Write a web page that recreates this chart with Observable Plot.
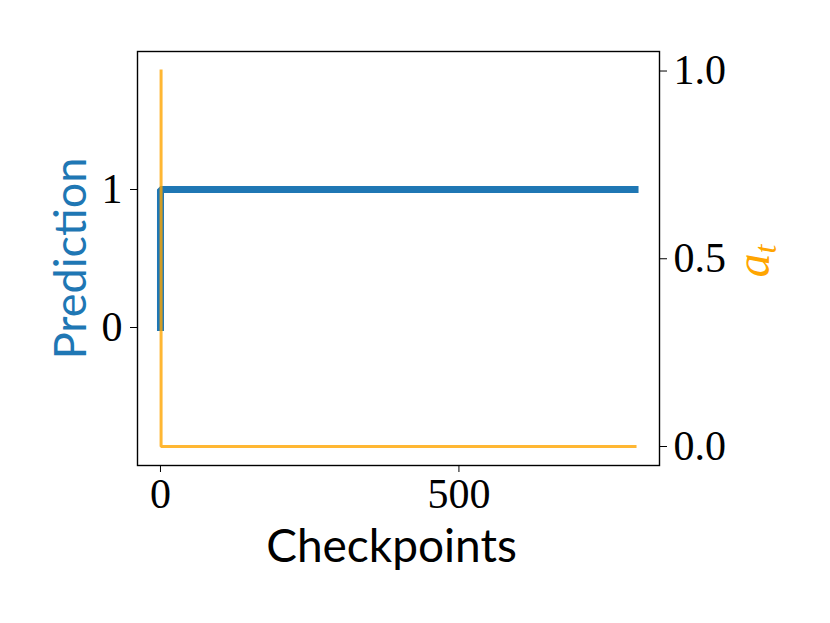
<!DOCTYPE html>
<html><head><meta charset="utf-8">
<script src="https://cdn.jsdelivr.net/npm/d3@7"></script>
<script src="https://cdn.jsdelivr.net/npm/@observablehq/plot@0.6"></script>
<style>body{margin:0;background:#fff}</style>
</head><body><div id="chart"></div>
<script>
// Data
const predCheckpoints = [0, 1, 795];
const predValues = [0, 1, 1];
const atCheckpoints = [1, 2, 795];
const atValues = [1, 0, 0];
const xTicks = [0, 500];
const leftTicks = [0, 1];
const rightTicks = [0, 0.5, 1.0];
const rightTickLabels = ["0.0", "0.5", "1.0"];
const xDomain = [-38.5, 836];
const leftDomain = [-1, 2];
const rightDomain = [-0.0506, 1.052];

const toLeft = a => leftDomain[0] + (a - rightDomain[0]) / (rightDomain[1] - rightDomain[0]) * (leftDomain[1] - leftDomain[0]);
const pred = predCheckpoints.map((c, i) => ({x: c, y: predValues[i]}));
const at = atCheckpoints.map((c, i) => ({x: c, y: toLeft(atValues[i])}));
const rightTickPos = rightTicks.map(toLeft);

const serif = "'Liberation Serif', 'DejaVu Serif', serif";
const sans = "Lato, 'Open Sans', sans-serif";

const svg = Plot.plot({
  width: 830, height: 623,
  marginLeft: 137, marginRight: 171, marginTop: 51, marginBottom: 158,
  style: {fontFamily: serif, fontSize: "42px", color: "black", background: "white", overflow: "visible"},
  x: {domain: xDomain},
  y: {domain: leftDomain},
  marks: [
    Plot.line(pred, {x: "x", y: "y", curve: "step-before", stroke: "#1f77b4", strokeWidth: 7, strokeLinecap: "square", strokeLinejoin: "miter"}),
    Plot.line(at, {x: "x", y: "y", curve: "step-before", stroke: "orange", strokeOpacity: 0.8, strokeWidth: 3, strokeLinecap: "square", strokeLinejoin: "miter"}),
    Plot.frame({stroke: "black", strokeWidth: 1.4}),
    Plot.axisX(xTicks, {tickSize: 7, tickPadding: 6, tickFormat: d => String(d), label: null, fontSize: 42, fontFamily: serif}),
    Plot.axisY(leftTicks, {anchor: "left", tickSize: 7, tickPadding: 8, tickFormat: d => String(d), label: null, fontSize: 42, fontFamily: serif}),
    Plot.axisY(rightTickPos, {anchor: "right", tickSize: 7, tickPadding: 7,
      tickFormat: d => rightTickLabels[rightTickPos.findIndex(t => Math.abs(t - d) < 1e-9)], label: null, fontSize: 42, fontFamily: serif}),
    Plot.text(["Checkpoints"], {frameAnchor: "bottom", textAnchor: "middle", dx: -7, dy: 96, text: d => d, fontFamily: sans, fontSize: 46, fill: "black"}),
    Plot.text(["Prediction"], {frameAnchor: "left", textAnchor: "middle", dx: -66, rotate: -90, text: d => d, fontFamily: sans, fontSize: 45, fill: "#1f77b4"})
  ]
});

const t = d3.select(svg).append("text")
  .attr("transform", "translate(769,261) rotate(-90)")
  .attr("text-anchor", "middle")
  .attr("fill", "orange")
  .attr("font-family", serif)
  .attr("font-size", 48)
  .attr("font-style", "italic");
t.append("tspan").text("a");
t.append("tspan").attr("font-size", 32).attr("dy", 7).text("t");

document.getElementById("chart").appendChild(svg);
</script>
</body></html>
